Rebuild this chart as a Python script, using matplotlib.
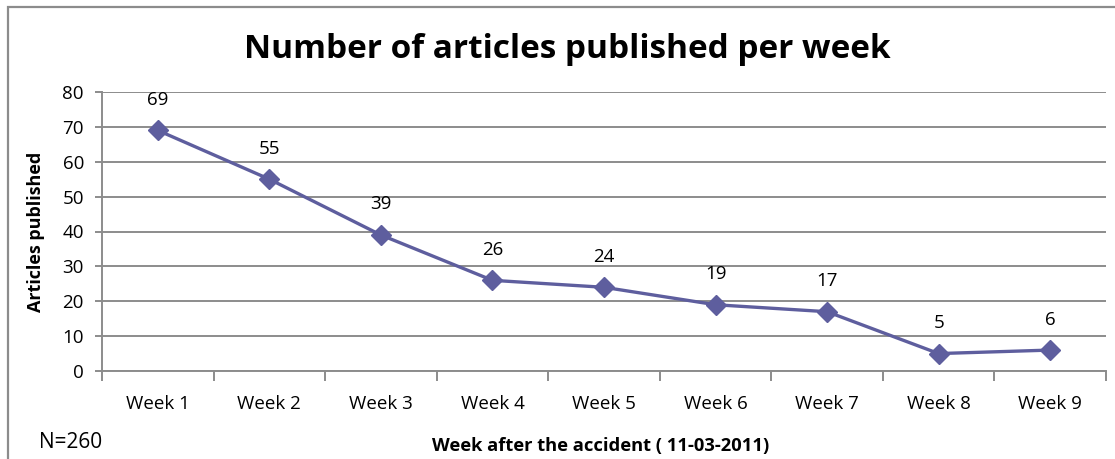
import matplotlib
matplotlib.use("Agg")
import matplotlib.pyplot as plt
from matplotlib.patches import Rectangle

weeks = ["Week 1", "Week 2", "Week 3", "Week 4", "Week 5",
         "Week 6", "Week 7", "Week 8", "Week 9"]
articles = [69, 55, 39, 26, 24, 19, 17, 5, 6]
y_ticks = [0, 10, 20, 30, 40, 50, 60, 70, 80]

plt.rcParams["font.family"] = ["Open Sans", "DejaVu Sans"]

line_color = "#5E5E9E"
grid_color = "#8C8C8C"
W, H = 1115, 459

fig = plt.figure(figsize=(W / 100, H / 100), dpi=100)
fig.patch.set_facecolor("white")

# outer chart frame, open on the right and bottom
fig.patches.append(Rectangle((8 / W, -0.1), 1.2, 1 - 7 / H + 0.1,
                             transform=fig.transFigure, fill=False,
                             edgecolor="#8C8C8C", linewidth=1.6))

ax = fig.add_axes([102 / W, 1 - 371 / H, 1004 / W, 279 / H])

xs = list(range(len(weeks)))
ax.plot(xs, articles, color=line_color, linewidth=2.4, marker="D",
        markersize=10, markerfacecolor=line_color, markeredgecolor=line_color,
        zorder=3, clip_on=False)
for x, v in zip(xs, articles):
    ax.annotate(str(v), (x, v), xytext=(0, 22), textcoords="offset points",
                ha="center", va="center", fontsize=13.5, color="black")

ax.set_xlim(-0.5, len(weeks) - 0.5)
ax.set_ylim(0, 80)
ax.set_yticks(y_ticks)
ax.tick_params(axis="y", labelsize=13.5, length=5, width=1.4,
               color=grid_color, pad=8, direction="out")

# category ticks sit between labels
ax.set_xticks([i - 0.5 for i in range(len(weeks) + 1)])
ax.set_xticklabels([])
ax.set_xticks(xs, minor=True)
ax.set_xticklabels(weeks, minor=True, fontsize=13.5)
ax.tick_params(axis="x", which="minor", length=0, pad=17.5)
ax.tick_params(axis="x", which="major", length=7, width=1.4,
               color=grid_color, direction="out")

ax.grid(axis="y", color=grid_color, linewidth=1.4)
ax.set_axisbelow(True)
for side in ("top", "right"):
    ax.spines[side].set_visible(False)
for side in ("left", "bottom"):
    ax.spines[side].set_color(grid_color)
    ax.spines[side].set_linewidth(1.4)

fig.text(36 / W, 1 - 232 / H, "Articles published", rotation=90,
         ha="center", va="center", fontsize=13, fontweight="bold")
fig.text(567 / W, 1 - 50 / H, "Number of articles published per week",
         ha="center", va="center", fontsize=24, fontweight="bold")
fig.text(601 / W, 1 - 446 / H, "Week after the accident ( 11-03-2011)",
         ha="center", va="center", fontsize=13.2, fontweight="bold")
fig.text(39 / W, 1 - 442 / H, "N=260", ha="left", va="center", fontsize=15)

fig.savefig("out.png", dpi=100, facecolor="white")
